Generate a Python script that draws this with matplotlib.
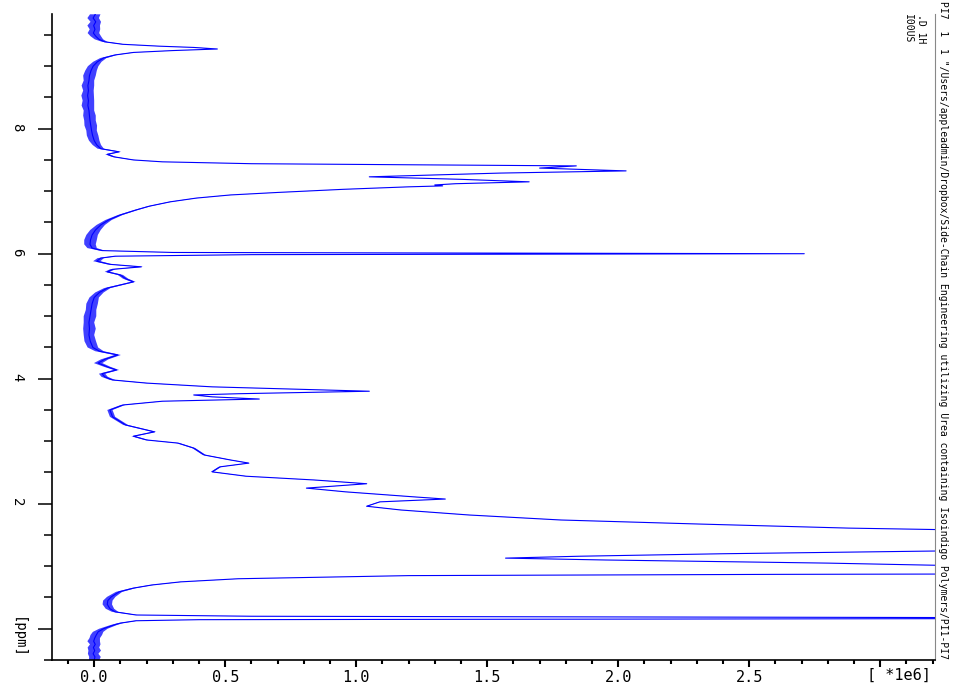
import matplotlib
matplotlib.use("Agg")
import matplotlib.pyplot as plt
import numpy as np
from matplotlib.ticker import MultipleLocator

plt.rcParams["font.family"] = ["DejaVu Sans Mono", "DejaVu Sans"]

# 1H NMR trace: chemical shift (ppm), intensity (x1e6)
# and half-width of the baseline noise band (x1e6)
ppm = [
    9.83, 9.77, 9.71, 9.65, 9.59, 9.53, 9.48, 9.43, 9.39, 9.35,
    9.32, 9.30, 9.275, 9.25, 9.22, 9.18, 9.13, 9.07, 9.00, 8.93,
    8.85, 8.77, 8.69, 8.61, 8.53, 8.45, 8.37, 8.29, 8.21, 8.13,
    8.05, 7.97, 7.89, 7.81, 7.74, 7.68, 7.63, 7.59, 7.55, 7.50,
    7.47, 7.44, 7.42, 7.405, 7.37, 7.325, 7.29, 7.23, 7.19, 7.15,
    7.12, 7.10, 7.085, 7.07, 7.03, 6.98, 6.94, 6.89, 6.83, 6.76,
    6.70, 6.62, 6.54, 6.46, 6.38, 6.30, 6.22, 6.15, 6.09, 6.05,
    6.02, 6.00, 5.985, 5.96, 5.93, 5.88, 5.83, 5.79, 5.75, 5.71,
    5.66, 5.60, 5.55, 5.50, 5.45, 5.38, 5.30, 5.20, 5.10, 5.00,
    4.90, 4.80, 4.70, 4.60, 4.50, 4.44, 4.38, 4.31, 4.25, 4.19,
    4.14, 4.08, 4.03, 3.98, 3.93, 3.87, 3.80, 3.76, 3.74, 3.71,
    3.675, 3.64, 3.58, 3.50, 3.39, 3.26, 3.15, 3.08, 3.02, 2.97,
    2.89, 2.78, 2.70, 2.65, 2.59, 2.51, 2.44, 2.38, 2.32, 2.25,
    2.19, 2.11, 2.075, 2.03, 1.96, 1.90, 1.82, 1.74, 1.675, 1.61,
    1.56, 1.48, 1.40, 1.32, 1.27, 1.243, 1.20, 1.16, 1.13, 1.10,
    1.05, 1.00, 0.94, 0.89, 0.87, 0.85, 0.80, 0.75, 0.70, 0.65,
    0.59, 0.51, 0.45, 0.39, 0.32, 0.27, 0.22, 0.20, 0.18, 0.17,
    0.16, 0.145, 0.128, 0.09, 0.06, 0.00, -0.05, -0.10, -0.15, -0.20,
    -0.25, -0.30, -0.35, -0.40, -0.45, -0.50,
]
intensity = [
    0.004, -0.004, 0.006, -0.002, 0.003, -0.003, 0.006, 0.018, 0.040, 0.110,
    0.250, 0.380, 0.470, 0.300, 0.150, 0.080, 0.035, 0.012, -0.004, -0.012,
    -0.018, -0.020, -0.024, -0.022, -0.025, -0.022, -0.024, -0.020, -0.018, -0.016,
    -0.013, -0.010, -0.006, 0.000, 0.010, 0.025, 0.095, 0.050, 0.075, 0.150,
    0.260, 0.600, 1.300, 1.840, 1.700, 2.030, 1.550, 1.050, 1.400, 1.660,
    1.380, 1.300, 1.330, 1.200, 0.950, 0.700, 0.520, 0.390, 0.290, 0.210,
    0.160, 0.100, 0.055, 0.025, 0.005, -0.008, -0.014, -0.016, -0.008, 0.030,
    0.300, 2.710, 0.600, 0.080, 0.025, 0.010, 0.060, 0.180, 0.070, 0.050,
    0.100, 0.120, 0.150, 0.100, 0.050, 0.020, 0.000, -0.008, -0.012, -0.016,
    -0.020, -0.018, -0.020, -0.015, -0.005, 0.020, 0.090, 0.040, 0.015, 0.050,
    0.085, 0.030, 0.040, 0.070, 0.200, 0.450, 1.050, 0.550, 0.380, 0.450,
    0.630, 0.260, 0.110, 0.060, 0.070, 0.120, 0.230, 0.150, 0.200, 0.320,
    0.380, 0.420, 0.520, 0.590, 0.480, 0.450, 0.580, 0.840, 1.040, 0.810,
    0.960, 1.220, 1.340, 1.090, 1.040, 1.170, 1.430, 1.780, 2.310, 2.880,
    3.600, 4.300, 4.800, 5.400, 4.200, 3.200, 2.400, 1.850, 1.570, 1.950,
    2.800, 3.400, 4.500, 5.200, 2.600, 1.200, 0.550, 0.330, 0.220, 0.150,
    0.095, 0.065, 0.052, 0.050, 0.060, 0.080, 0.160, 0.600, 3.000, 5.500,
    3.000, 0.400, 0.160, 0.100, 0.075, 0.035, 0.015, 0.008, 0.002, -0.002,
    0.004, -0.003, 0.002, -0.004, 0.003, 0.000,
]
noise = [
    0.020, 0.022, 0.020, 0.024, 0.020, 0.022, 0.020, 0.016, 0.010, 0.006,
    0.004, 0.004, 0.004, 0.004, 0.005, 0.008, 0.012, 0.016, 0.020, 0.022,
    0.024, 0.020, 0.024, 0.020, 0.024, 0.022, 0.024, 0.020, 0.024, 0.022,
    0.024, 0.020, 0.022, 0.020, 0.016, 0.012, 0.008, 0.008, 0.007, 0.005,
    0.004, 0.003, 0.003, 0.003, 0.003, 0.003, 0.003, 0.003, 0.003, 0.003,
    0.003, 0.003, 0.003, 0.003, 0.003, 0.003, 0.004, 0.004, 0.005, 0.006,
    0.007, 0.009, 0.012, 0.016, 0.020, 0.022, 0.024, 0.022, 0.018, 0.010,
    0.003, 0.002, 0.003, 0.008, 0.012, 0.014, 0.010, 0.008, 0.010, 0.010,
    0.010, 0.010, 0.008, 0.010, 0.012, 0.016, 0.018, 0.022, 0.020, 0.024,
    0.020, 0.024, 0.020, 0.022, 0.020, 0.016, 0.012, 0.014, 0.016, 0.012,
    0.010, 0.012, 0.012, 0.010, 0.006, 0.004, 0.003, 0.003, 0.004, 0.004,
    0.004, 0.005, 0.008, 0.010, 0.010, 0.009, 0.007, 0.008, 0.007, 0.006,
    0.006, 0.006, 0.005, 0.004, 0.005, 0.005, 0.004, 0.004, 0.003, 0.003,
    0.003, 0.003, 0.003, 0.003, 0.003, 0.003, 0.003, 0.003, 0.002, 0.002,
    0.000, 0.000, 0.000, 0.000, 0.000, 0.002, 0.002, 0.002, 0.003, 0.002,
    0.002, 0.000, 0.000, 0.000, 0.002, 0.003, 0.004, 0.005, 0.007, 0.009,
    0.012, 0.016, 0.018, 0.018, 0.016, 0.012, 0.006, 0.003, 0.002, 0.000,
    0.002, 0.003, 0.006, 0.010, 0.012, 0.016, 0.020, 0.022, 0.020, 0.024,
    0.020, 0.022, 0.024, 0.020, 0.022, 0.020,
]
assert len(ppm) == len(intensity) == len(noise)

x_ticks = [0.0, 0.5, 1.0, 1.5, 2.0, 2.5, 3.0]
x_ticklabels = ["0.0", "0.5", "1.0", "1.5", "2.0", "2.5", ""]
y_ticks = [0, 2, 4, 6, 8]
y_ticklabels = ["", "2", "4", "6", "8"]

title = ('PI7  1  1 "/Users/appleadmin/Dropbox/Side-Chain Engineering '
         'utilizing Urea containing Isoindigo Polymers/PI1-PI7')

p = np.array(ppm)
v = np.array(intensity)
n = np.array(noise)

fig = plt.figure(figsize=(9.59, 6.85), dpi=100)
ax = fig.add_axes([52 / 959, 25 / 685, 883 / 959, 646 / 685])

# noisy baseline band, then the trace itself
ax.fill_betweenx(p, v - n, v + n, color="#0000ff", alpha=0.75, lw=0)
ax.plot(v, p, color="#0000ff", lw=0.8)

ax.set_xlim(-0.161, 3.209)
ax.set_ylim(-0.50, 9.835)

ax.set_xticks(x_ticks)
ax.set_xticklabels(x_ticklabels)
ax.xaxis.set_minor_locator(MultipleLocator(0.1))
ax.set_yticks(y_ticks)
ax.set_yticklabels(y_ticklabels)
ax.yaxis.set_minor_locator(MultipleLocator(0.5))

ax.tick_params(axis="x", which="major", direction="out", length=5, width=1.5,
               labelsize=11, pad=2)
ax.tick_params(axis="x", which="minor", direction="out", length=3, width=1.5)
ax.tick_params(axis="y", which="major", direction="out", length=10, width=1.1,
               labelsize=10, labelrotation=-90, pad=10)
ax.tick_params(axis="y", which="minor", direction="out", length=6, width=1.1)

ax.spines["top"].set_visible(False)
ax.spines["right"].set_color("#888888")
ax.spines["right"].set_linewidth(0.8)
for side in ("left", "bottom"):
    ax.spines[side].set_linewidth(1.2)

# unit labels that stand in for the 0 ppm and 3.0 ticks
ax.text(3.07, -0.0232, "[ *1e6]", transform=ax.get_xaxis_transform(),
        ha="center", va="center", fontsize=11)
ax.text(-0.0385, -0.15, "[ppm]", transform=ax.get_yaxis_transform(),
        rotation=-90, ha="center", va="center", fontsize=10)

# header strip on the right, written top to bottom
fig.text(943 / 959, 1 - 1.5 / 685, title, rotation=-90, rotation_mode="anchor",
         ha="left", va="center", fontsize=7.0)
fig.text(921 / 959, 1 - 14 / 685, ".D 1H", rotation=-90, rotation_mode="anchor",
         ha="left", va="center", fontsize=7.0)
fig.text(908 / 959, 1 - 14 / 685, "I00US", rotation=-90, rotation_mode="anchor",
         ha="left", va="center", fontsize=7.0)

fig.savefig("out.png", dpi=100, facecolor="white")
plt.close(fig)
